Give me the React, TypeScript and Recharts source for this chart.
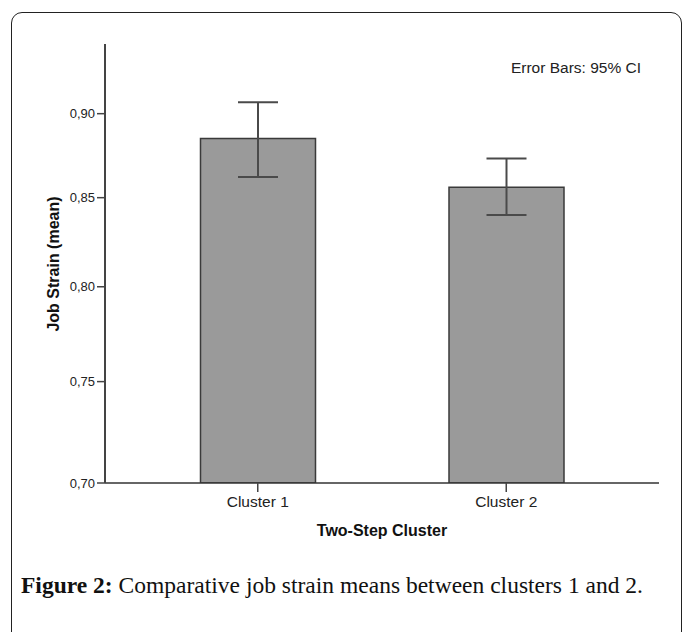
import React from 'react';
import { BarChart, Bar, XAxis, YAxis, ErrorBar } from 'recharts';

const categories = ['Cluster 1', 'Cluster 2'];
const means = [0.885, 0.856];
const ciLower = [0.862, 0.84];
const ciUpper = [0.907, 0.873];
const yTicks = [0.7, 0.75, 0.8, 0.85, 0.9];
const yDomain = [0.7, 0.9437];

const data = categories.map((name, i) => ({
  name,
  mean: means[i],
  err: [means[i] - ciLower[i], ciUpper[i] - means[i]],
}));

const FONT = '"Liberation Sans", Arial, sans-serif';

const fmt = (v: number) => v.toFixed(2).replace('.', ',');

export default function App() {
  return (
    <div style={{ position: 'absolute', left: 0, top: 0, width: 683, height: 632, overflow: 'hidden', background: '#fff' }}>
      <div
        style={{
          position: 'absolute',
          left: 11,
          top: 12,
          width: 671,
          height: 700,
          border: '1.5px solid #222',
          borderRadius: 11,
          boxSizing: 'border-box',
        }}
      />
      <div style={{ position: 'absolute', left: 0, top: 0 }}>
        <BarChart
          width={683}
          height={632}
          data={data}
          margin={{ top: 44, right: 24, left: 45, bottom: 89 }}
        >
          <XAxis
            dataKey="name"
            type="category"
            padding={{ left: 28.5, right: 28.5 }}
            height={60}
            tickSize={9}
            tickMargin={4}
            axisLine={{ stroke: '#333', strokeWidth: 1.5 }}
            tickLine={{ stroke: '#444', strokeWidth: 1.5 }}
            tick={{ fill: '#222', fontSize: 15.5, fontFamily: FONT }}
            label={{
              content: (props: any) => {
                const vb = props.viewBox || {};
                return (
                  <text
                    x={vb.x + vb.width / 2}
                    y={530}
                    textAnchor="middle"
                    dominantBaseline="central"
                    fontFamily={FONT}
                    fontWeight="bold"
                    fontSize={16}
                    fill="#111"
                  >
                    Two-Step Cluster
                  </text>
                );
              },
            }}
          />
          <XAxis
            xAxisId="top"
            dataKey="name"
            orientation="top"
            height={0}
            padding={{ left: 28.5, right: 28.5 }}
            tick={false}
            tickLine={false}
            axisLine={{ stroke: '#222', strokeWidth: 1.5 }}
          />
          <YAxis
            type="number"
            scale="log"
            domain={yDomain}
            allowDataOverflow
            ticks={yTicks}
            width={60}
            tickSize={8}
            tickMargin={2}
            tickFormatter={fmt}
            axisLine={{ stroke: '#444', strokeWidth: 2 }}
            tickLine={{ stroke: '#444', strokeWidth: 1.5 }}
            tick={{ fill: '#222', fontSize: 13, fontFamily: FONT }}
            label={{
              content: () => (
                <text
                  x={53}
                  y={264}
                  transform="rotate(-90, 53, 264)"
                  textAnchor="middle"
                  dominantBaseline="central"
                  fontFamily={FONT}
                  fontWeight="bold"
                  fontSize={16}
                  fill="#111"
                >
                  Job Strain (mean)
                </text>
              ),
            }}
          />
          <YAxis
            yAxisId="r"
            orientation="right"
            type="number"
            scale="log"
            domain={yDomain}
            allowDataOverflow
            width={0}
            tick={false}
            tickLine={false}
            axisLine={{ stroke: '#222', strokeWidth: 1.5 }}
          />
          <Bar
            dataKey="mean"
            fill="#9a9a9a"
            stroke="#3a3a3a"
            strokeWidth={1.5}
            barSize={115}
            isAnimationActive={false}
          >
            <ErrorBar dataKey="err" width={20} stroke="#4a4a4a" strokeWidth={2} direction="y" />
          </Bar>
        </BarChart>
      </div>
      <svg width={683} height={632} style={{ position: 'absolute', left: 0, top: 0, pointerEvents: 'none' }}>
        <text x={641} y={67} textAnchor="end" dominantBaseline="central" fontFamily={FONT} fontSize={15.5} fill="#222">
          Error Bars: 95% CI
        </text>
        <text
          x={21}
          y={585}
          dominantBaseline="central"
          fontFamily='"Liberation Serif", "Times New Roman", serif'
          fontSize={23}
          fill="#111"
          textLength={622}
          lengthAdjust="spacingAndGlyphs"
        >
          <tspan fontWeight="bold">Figure 2:</tspan> Comparative job strain means between clusters 1 and 2.
        </text>
      </svg>
    </div>
  );
}
